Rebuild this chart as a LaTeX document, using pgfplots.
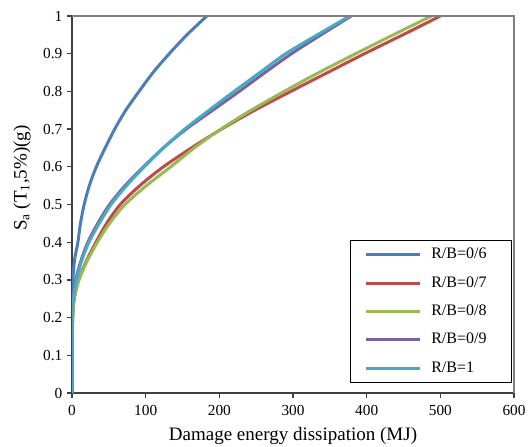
\documentclass[border=0pt]{standalone}
\usepackage{fontspec}
\setmainfont{Liberation Serif}
\usepackage{pgfplots}
\usepackage{pgfplotstable}
\pgfplotsset{compat=1.18}
\definecolor{c1}{HTML}{4A7EBB}
\definecolor{c2}{HTML}{BE4B48}
\definecolor{c3}{HTML}{98B954}
\definecolor{c4}{HTML}{7D60A0}
\definecolor{c5}{HTML}{46AAC5}
\pgfplotstableread{
x y
0 0
0 0.20
0.6 0.27
1.8 0.32
4 0.36
8 0.40
11.5 0.45
16.5 0.50
23.5 0.55
33 0.60
45 0.65
58 0.70
73 0.75
91 0.80
110 0.85
132 0.90
156 0.95
183 1.00
}\rbA
\pgfplotstableread{
x y
0 0
0.3 0.15
1 0.20
3 0.25
9 0.30
19.5 0.35
32.5 0.40
47 0.45
65.5 0.50
92 0.55
124 0.60
162 0.65
203 0.70
248 0.75
297 0.80
347 0.85
397 0.90
449 0.95
500 1.00
}\rbB
\pgfplotstableread{
x y
0 0
0.3 0.15
1 0.20
3 0.25
9.5 0.30
20.5 0.35
34.5 0.40
51 0.45
72 0.50
101 0.55
134 0.60
166 0.65
202 0.70
243 0.75
288 0.80
335 0.85
385 0.90
436 0.95
488 1.00
}\rbC
\pgfplotstableread{
x y
0 0
0.3 0.20
1.5 0.25
5 0.30
12 0.35
21.5 0.40
35 0.45
51 0.50
72 0.55
97 0.60
124 0.65
155 0.70
191 0.75
227 0.80
262 0.85
298 0.90
338 0.95
379 1.00
}\rbD
\pgfplotstableread{
x y
0 0
0.4 0.20
1.8 0.25
6 0.30
13 0.35
23 0.40
37 0.45
53 0.50
74 0.55
98 0.60
124 0.65
153 0.70
186 0.75
220 0.80
255 0.85
290 0.90
333 0.95
377 1.00
}\rbE
\begin{document}
\begin{tikzpicture}
\begin{axis}[name=ax,
 width=331.5pt, height=282.75pt, scale only axis,
 xmin=0, xmax=600, ymin=0, ymax=1,
 xtick={0,100,200,300,400,500,600},
 ytick={0,0.1,0.2,0.3,0.4,0.5,0.6,0.7,0.8,0.9,1},
 axis x line*=bottom, axis y line*=left,
 axis line style={-, draw=black!75, line width=1.5pt},
 tick align=outside, major tick length=3.75pt,
 tick style={draw=black!75, line width=1pt},
 /pgf/number format/assume math mode=true,
 yticklabel style={/pgf/number format/fixed, /pgf/number format/precision=1},
 xticklabel style={yshift=-2pt},
 ticklabel style={font=\fontsize{11.5}{13}\selectfont},
 xlabel={Damage energy dissipation (MJ)},
 ylabel={S\textsubscript{a} (T\textsubscript{1},5\%)(g)},
 label style={font=\fontsize{14.25}{16}\selectfont},
 xlabel style={at={(axis description cs:0.5,-0.127)}, anchor=base},
 ylabel style={at={(axis description cs:-0.113,0.57)}, anchor=center},
 legend cell align=left,
 legend image code/.code={\draw[#1] (0pt,0pt) -- (41pt,0pt);},
 legend style={at={(0.995,0.0265)}, anchor=south east, draw=black, line width=0.75pt,
   fill=white, inner xsep=10pt, inner ysep=0pt, row sep=0pt, column sep=0pt,
   font=\fontsize{12}{14}\selectfont,
   nodes={inner ysep=4.65pt, text height=9pt, text depth=3pt, inner xsep=0pt}},
 every axis plot/.append style={line width=2.25pt, line join=round, smooth, tension=0.5},
]
\addplot[c1] table[x=x,y=y]{\rbA};
\addlegendentry{\hspace{7pt}\makebox[50pt][l]{R/B=0/6}}
\addplot[c2] table[x=x,y=y]{\rbB};
\addlegendentry{\hspace{7pt}\makebox[50pt][l]{R/B=0/7}}
\addplot[c3] table[x=x,y=y]{\rbC};
\addlegendentry{\hspace{7pt}\makebox[50pt][l]{R/B=0/8}}
\addplot[c4] table[x=x,y=y]{\rbD};
\addlegendentry{\hspace{7pt}\makebox[50pt][l]{R/B=0/9}}
\addplot[c5] table[x=x,y=y]{\rbE};
\addlegendentry{\hspace{7pt}\makebox[50pt][l]{R/B=1}}
\end{axis}
\draw[black!50, line width=1pt] (ax.north west) -- (ax.north east) -- (ax.south east);
\pgfresetboundingbox
\path ([xshift=-54pt,yshift=-39.75pt]ax.south west) rectangle ([xshift=11.25pt,yshift=12pt]ax.north east);
\end{tikzpicture}
\end{document}
